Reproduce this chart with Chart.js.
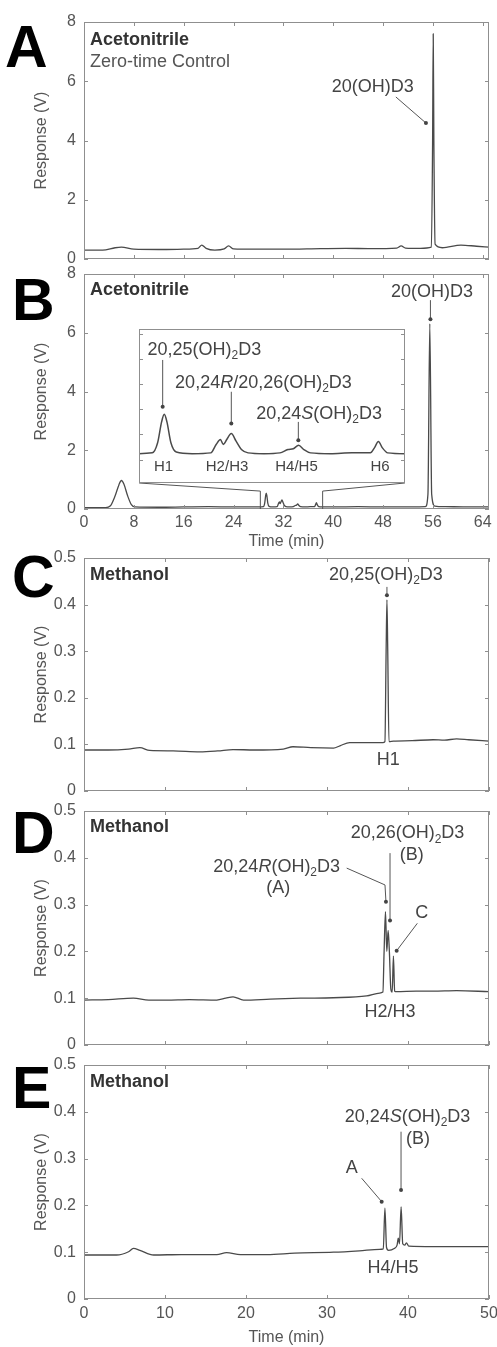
<!DOCTYPE html>
<html>
<head>
<meta charset="utf-8">
<title>HPLC chromatograms</title>
<script src="https://cdn.jsdelivr.net/npm/chart.js@4.4.1/dist/chart.umd.min.js"></script>
<style>
  html, body { margin: 0; padding: 0; background: #fff; }
  body { position: relative; width: 497px; height: 1347px; overflow: hidden; }
  canvas { position: absolute; left: 0; }
  #inset { z-index: 2; }
</style>
</head>
<body>
<canvas id="panelA" width="497" height="269" style="top:2px"></canvas>
<canvas id="panelB" width="497" height="301" style="top:254px"></canvas>
<canvas id="panelC" width="497" height="265" style="top:538px"></canvas>
<canvas id="panelD" width="497" height="266" style="top:791px"></canvas>
<canvas id="panelE" width="497" height="302" style="top:1045px"></canvas>
<canvas id="inset" width="10" height="10"></canvas>
<script>
// ---- data (time in min, response in V) ----
const timeA = [0, 3, 5, 6, 8, 12, 16, 18.3, 18.9, 19.6, 21, 22.5, 23.2, 24, 27, 32, 38, 42, 46, 50.2,
  50.9, 51.6, 54, 55.75, 55.95, 56.05, 56.15, 56.35, 57.5, 60.5, 63, 65];
const respA = [0.3, 0.3, 0.38, 0.4, 0.33, 0.32, 0.33, 0.36, 0.47, 0.36, 0.3, 0.34, 0.44, 0.34, 0.33, 0.33, 0.35, 0.36, 0.35, 0.37,
  0.44, 0.37, 0.36, 0.4, 4.0, 7.6, 4.0, 0.5, 0.38, 0.47, 0.43, 0.4];

const timeB = [0, 3.5, 4.2, 5.0, 5.6, 6.0, 6.4, 7.0, 7.6, 8.2, 12, 16, 20, 24, 28, 28.8, 29.0, 29.15, 29.25, 29.35,
  29.5, 29.7, 30.3, 31.0, 31.2, 31.36, 31.47, 31.6, 31.77, 31.95, 32.15, 32.4, 33.0, 33.6, 33.9, 34.1, 34.3, 34.5, 34.75, 35.5,
  36.3, 37.0, 37.15, 37.3, 37.45, 37.65, 38.3, 40, 44, 48, 52, 54.8, 55.2, 55.5, 55.8, 56.3, 58, 62, 65];
const respB = [0.05, 0.05, 0.1, 0.45, 0.82, 0.97, 0.85, 0.45, 0.15, 0.07, 0.06, 0.07, 0.08, 0.07, 0.07, 0.08, 0.2, 0.45, 0.54, 0.45,
  0.2, 0.09, 0.07, 0.08, 0.18, 0.24, 0.18, 0.24, 0.31, 0.22, 0.12, 0.08, 0.07, 0.08, 0.12, 0.13, 0.17, 0.12, 0.08, 0.07,
  0.08, 0.08, 0.14, 0.215, 0.14, 0.08, 0.07, 0.07, 0.08, 0.07, 0.07, 0.08, 0.5, 6.3, 0.5, 0.1, 0.08, 0.07, 0.07];

const timeC = [0, 3, 5.5, 6.9, 8.1, 11, 14.3, 16.5, 18.4, 21, 24.6, 25.8, 28, 30.8, 31.6, 32.8, 34.9, 36.9, 37.15, 37.3,
  37.4, 37.5, 37.65, 38.2, 40.5, 43.1, 44.5, 46, 47.5, 50];
const respC = [0.088, 0.088, 0.09, 0.093, 0.087, 0.086, 0.084, 0.086, 0.089, 0.088, 0.09, 0.095, 0.093, 0.092, 0.097, 0.104, 0.104, 0.104, 0.106, 0.3,
  0.41, 0.3, 0.106, 0.107, 0.108, 0.11, 0.109, 0.112, 0.11, 0.107];

const timeD = [0, 3, 6.1, 8, 10.2, 13, 16.4, 17.5, 18.4, 19.7, 23, 26.7, 30.8, 34.9, 36.5, 36.9, 37.05, 37.22, 37.38, 37.55,
  37.7, 37.88, 38.05, 38.2, 38.35, 38.6, 41, 43.1, 46, 50];
const respD = [0.096, 0.097, 0.1, 0.096, 0.096, 0.097, 0.096, 0.1, 0.103, 0.096, 0.098, 0.1, 0.101, 0.105, 0.111, 0.113, 0.2, 0.285, 0.2, 0.245,
  0.2, 0.12, 0.113, 0.19, 0.115, 0.114, 0.115, 0.115, 0.116, 0.114];

const timeE = [0, 4, 5.5, 6.1, 6.9, 8.6, 12, 16.4, 17.6, 19.3, 22.6, 26, 30.8, 34, 36.5, 36.95, 37.15, 37.35, 37.6, 38.3,
  38.65, 38.8, 38.95, 39.15, 39.35, 39.6, 39.8, 40.1, 43.1, 46, 50];
const respE = [0.094, 0.094, 0.101, 0.108, 0.104, 0.094, 0.095, 0.095, 0.099, 0.095, 0.095, 0.098, 0.1, 0.103, 0.106, 0.107, 0.194, 0.11, 0.104, 0.108,
  0.115, 0.13, 0.118, 0.197, 0.118, 0.115, 0.12, 0.113, 0.112, 0.112, 0.112];

// tick values
const xTicksAB = [0, 8, 16, 24, 32, 40, 48, 56, 64];
const yTicksAB = [0, 2, 4, 6, 8];
const xTicksCDE = [0, 10, 20, 30, 40, 50];
const yTicksCDE = [0, 0.1, 0.2, 0.3, 0.4, 0.5];
const yTicksInset = [0, 0.3, 0.6, 0.9, 1.2, 1.5];

const FONT = "'Liberation Sans', Arial, Helvetica, sans-serif";
Chart.defaults.font.family = FONT;
Chart.defaults.font.size = 16;
Chart.defaults.color = '#555';

// text with _2 subscripts and *R* italics
function drawRich(ctx, x, y, str, size, weight, align, color) {
  const segs = str.split(/(_\d|\*[^*]+\*)/).filter(s => s).map(p => {
    if (p[0] === '_') return { t: p.slice(1), f: weight + ' ' + Math.round(size * 0.65) + 'px ' + FONT, dy: size * 0.32 };
    if (p[0] === '*') return { t: p.slice(1, -1), f: 'italic ' + weight + ' ' + size + 'px ' + FONT, dy: 0 };
    return { t: p, f: weight + ' ' + size + 'px ' + FONT, dy: 0 };
  });
  let w = 0;
  segs.forEach(s => { ctx.font = s.f; s.w = ctx.measureText(s.t).width; w += s.w; });
  let cx = align === 'left' ? x : x - w / 2;
  ctx.fillStyle = color;
  ctx.textAlign = 'left';
  ctx.textBaseline = 'middle';
  segs.forEach(s => { ctx.font = s.f; ctx.fillText(s.t, cx, y + s.dy); cx += s.w; });
}

// box, inward ticks, annotations and panel letter
const framePlugin = {
  id: 'frame',
  beforeDraw(chart, args, o) {
    if (!o.white) return;
    const a = chart.chartArea;
    chart.ctx.save();
    chart.ctx.fillStyle = '#fff';
    chart.ctx.fillRect(a.left, a.top, a.width, a.height);
    chart.ctx.restore();
  },
  afterDatasetsDraw(chart, args, o) {
    const { ctx, chartArea: a, scales: { x, y } } = chart;
    const px = v => x.getPixelForValue(v);
    const py = v => y.getPixelForValue(v);
    ctx.save();
    ctx.strokeStyle = '#8f8f8f';
    ctx.lineWidth = 1;
    ctx.strokeRect(Math.round(a.left) + 0.5, Math.round(a.top) + 0.5, Math.round(a.width) - 1, Math.round(a.height) - 1);
    ctx.beginPath();
    (o.xTicks || []).forEach(v => {
      const p = Math.round(px(v)) + 0.5;
      ctx.moveTo(p, a.bottom); ctx.lineTo(p, a.bottom - 4);
      ctx.moveTo(p, a.top); ctx.lineTo(p, a.top + 4);
    });
    (o.yTicks || []).forEach(v => {
      const p = Math.round(py(v)) + 0.5;
      ctx.moveTo(a.left, p); ctx.lineTo(a.left + 4, p);
      ctx.moveTo(a.right, p); ctx.lineTo(a.right - 4, p);
    });
    ctx.stroke();

    ctx.strokeStyle = '#555';
    ctx.fillStyle = '#444';
    (o.arrows || []).forEach(ar => {
      ctx.beginPath();
      ar.pts.forEach(([vx, vy], i) => i ? ctx.lineTo(px(vx), py(vy)) : ctx.moveTo(px(vx), py(vy)));
      ctx.stroke();
      if (ar.dot !== false) {
        const [vx, vy] = ar.pts[ar.pts.length - 1];
        ctx.beginPath();
        ctx.arc(px(vx), py(vy), 2, 0, Math.PI * 2);
        ctx.fillStyle = '#444';
        ctx.fill();
      }
    });
    (o.labels || []).forEach(l => drawRich(ctx, px(l.x), py(l.y), l.t, l.size || 18,
      l.bold ? 'bold' : 'normal', l.align || 'center', l.color || '#444'));
    if (o.letter) {
      ctx.font = 'bold 59px ' + FONT;
      ctx.fillStyle = '#000';
      ctx.textAlign = 'left';
      ctx.textBaseline = 'alphabetic';
      ctx.fillText(o.letter.t, o.letter.x, o.letter.y);
    }
    ctx.restore();
  }
};

function makePanel(id, cfg) {
  return new Chart(document.getElementById(id), {
    type: 'line',
    data: {
      datasets: [{
        data: cfg.time.map((t, i) => ({ x: t, y: cfg.resp[i] })),
        borderColor: '#4a4a4a',
        borderWidth: 1.3,
        pointRadius: 0,
        cubicInterpolationMode: 'monotone',
        fill: false
      }]
    },
    options: {
      responsive: false,
      animation: false,
      events: [],
      layout: { padding: { top: 20, left: 0, right: 8, bottom: 0 } },
      plugins: { legend: { display: false }, tooltip: { enabled: false }, frame: cfg.frame },
      scales: {
        x: {
          type: 'linear', min: cfg.xMin, max: cfg.xMax,
          grid: { display: false, drawTicks: false },
          border: { display: false },
          ticks: { display: !!cfg.xTitle, padding: cfg.xPad || 3, maxRotation: 0, autoSkip: false },
          afterBuildTicks: s => { s.ticks = cfg.xTicks.map(v => ({ value: v })); },
          afterFit: s => { s.height = cfg.bottom; s.paddingLeft = 0; s.paddingRight = 0; },
          title: { display: !!cfg.xTitle, text: 'Time (min)', font: { size: 16 }, padding: { top: 0, bottom: cfg.titlePad || 0 } }
        },
        y: {
          type: 'linear', min: cfg.yMin, max: cfg.yMax,
          grid: { display: false, drawTicks: false },
          border: { display: false },
          ticks: { padding: 8 },
          afterBuildTicks: s => { s.ticks = cfg.yTicks.map(v => ({ value: v })); },
          afterFit: s => { s.width = 84; s.paddingTop = 0; s.paddingBottom = 0; },
          title: { display: true, text: 'Response (V)', font: { size: 16 }, padding: { top: 32, bottom: 0 } }
        }
      }
    },
    plugins: [framePlugin]
  });
}

// A
makePanel('panelA', {
  time: timeA, resp: respA, xMin: 0, xMax: 65, yMin: 0, yMax: 8,
  xTicks: xTicksAB, yTicks: yTicksAB, bottom: 12,
  frame: {
    xTicks: xTicksAB, yTicks: yTicksAB,
    letter: { t: 'A', x: 5, y: 65 },
    labels: [
      { x: 0.97, y: 7.39, t: 'Acetonitrile', bold: true, align: 'left', color: '#333' },
      { x: 0.97, y: 6.65, t: 'Zero-time Control', align: 'left', color: '#555' },
      { x: 46.35, y: 5.81, t: '20(OH)D3' }
    ],
    arrows: [{ pts: [[50.05, 5.47], [54.88, 4.59]] }]
  }
});

// B
const chartB = makePanel('panelB', {
  time: timeB, resp: respB, xMin: 0, xMax: 65, yMin: 0, yMax: 8,
  xTicks: xTicksAB, yTicks: yTicksAB, bottom: 46, xTitle: true, xPad: 4, titlePad: 4,
  frame: {
    xTicks: xTicksAB, yTicks: yTicksAB,
    letter: { t: 'B', x: 12, y: 66 },
    labels: [
      { x: 0.97, y: 7.46, t: 'Acetonitrile', bold: true, align: 'left', color: '#333' },
      { x: 55.84, y: 7.40, t: '20(OH)D3' }
    ],
    arrows: [
      { pts: [[55.6, 7.11], [55.6, 6.46]] },
      { pts: [[8.85, 0.885], [28.3, 0.61]], dot: false },
      { pts: [[51.5, 0.885], [38.3, 0.61]], dot: false },
      { pts: [[28.3, 0.61], [28.3, 0]], dot: false },
      { pts: [[38.3, 0.61], [38.3, 0]], dot: false }
    ]
  }
});

// inset of B, placed through chart B's own scales
const insetBox = { x0: 8.85, x1: 51.5, y0: 0.885, y1: 6.13 };
const insetCanvas = document.getElementById('inset');
const offB = chartB.canvas.offsetTop;
const iL = Math.round(chartB.scales.x.getPixelForValue(insetBox.x0));
const iR = Math.round(chartB.scales.x.getPixelForValue(insetBox.x1));
const iT = Math.round(chartB.scales.y.getPixelForValue(insetBox.y1));
const iB = Math.round(chartB.scales.y.getPixelForValue(insetBox.y0));
insetCanvas.width = iR - iL;
insetCanvas.height = iB - iT;
insetCanvas.style.left = iL + 'px';
insetCanvas.style.top = (offB + iT) + 'px';

new Chart(insetCanvas, {
  type: 'line',
  data: {
    datasets: [{
      data: timeB.map((t, i) => ({ x: t, y: respB[i] })),
      borderColor: '#4a4a4a', borderWidth: 1.5, pointRadius: 0,
      cubicInterpolationMode: 'monotone', fill: false
    }]
  },
  options: {
    responsive: false, animation: false, events: [],
    layout: { padding: 0 },
    plugins: {
      legend: { display: false }, tooltip: { enabled: false },
      frame: {
        white: true, yTicks: yTicksInset,
        labels: [
          { x: 30.76, y: 1.31, t: '20,25(OH)_2D3' },
          { x: 32.98, y: 0.91, t: '20,24*R*/20,26(OH)_2D3' },
          { x: 35.07, y: 0.54, t: '20,24*S*(OH)_2D3' },
          { x: 29.22, y: -0.087, t: 'H1', size: 15 },
          { x: 31.61, y: -0.087, t: 'H2/H3', size: 15 },
          { x: 34.22, y: -0.087, t: 'H4/H5', size: 15 },
          { x: 37.36, y: -0.087, t: 'H6', size: 15 }
        ],
        arrows: [
          { pts: [[29.19, 1.19], [29.19, 0.63]] },
          { pts: [[31.77, 0.81], [31.77, 0.43]] },
          { pts: [[34.29, 0.45], [34.29, 0.23]] }
        ]
      }
    },
    scales: {
      x: { type: 'linear', display: false, min: 28.3, max: 38.3 },
      y: { type: 'linear', display: false, min: -0.28, max: 1.56 }
    }
  },
  plugins: [framePlugin]
});

// C
makePanel('panelC', {
  time: timeC, resp: respC, xMin: 0, xMax: 50, yMin: 0, yMax: 0.5,
  xTicks: xTicksCDE, yTicks: yTicksCDE, bottom: 12,
  frame: {
    xTicks: xTicksCDE, yTicks: yTicksCDE,
    letter: { t: 'C', x: 12, y: 59 },
    labels: [
      { x: 0.74, y: 0.4635, t: 'Methanol', bold: true, align: 'left', color: '#333' },
      { x: 37.28, y: 0.4635, t: '20,25(OH)_2D3' },
      { x: 37.57, y: 0.0665, t: 'H1' }
    ],
    arrows: [{ pts: [[37.4, 0.438], [37.4, 0.42]] }]
  }
});

// D
makePanel('panelD', {
  time: timeD, resp: respD, xMin: 0, xMax: 50, yMin: 0, yMax: 0.5,
  xTicks: xTicksCDE, yTicks: yTicksCDE, bottom: 12,
  frame: {
    xTicks: xTicksCDE, yTicks: yTicksCDE,
    letter: { t: 'D', x: 12, y: 62 },
    labels: [
      { x: 0.74, y: 0.4665, t: 'Methanol', bold: true, align: 'left', color: '#333' },
      { x: 39.94, y: 0.452, t: '20,26(OH)_2D3' },
      { x: 40.46, y: 0.406, t: '(B)' },
      { x: 23.79, y: 0.381, t: '20,24*R*(OH)_2D3' },
      { x: 23.99, y: 0.335, t: '(A)' },
      { x: 41.69, y: 0.281, t: 'C' },
      { x: 37.78, y: 0.071, t: 'H2/H3' }
    ],
    arrows: [
      { pts: [[32.43, 0.378], [37.16, 0.342], [37.28, 0.306]] },
      { pts: [[37.78, 0.41], [37.78, 0.266]] },
      { pts: [[41.15, 0.26], [38.6, 0.2015]] }
    ]
  }
});

// E
makePanel('panelE', {
  time: timeE, resp: respE, xMin: 0, xMax: 50, yMin: 0, yMax: 0.5,
  xTicks: xTicksCDE, yTicks: yTicksCDE, bottom: 48, xTitle: true, xPad: 5, titlePad: 0,
  frame: {
    xTicks: xTicksCDE, yTicks: yTicksCDE,
    letter: { t: 'E', x: 12, y: 63 },
    labels: [
      { x: 0.74, y: 0.4643, t: 'Methanol', bold: true, align: 'left', color: '#333' },
      { x: 39.94, y: 0.3895, t: '20,24*S*(OH)_2D3' },
      { x: 41.23, y: 0.341, t: '(B)' },
      { x: 33.05, y: 0.279, t: 'A' },
      { x: 38.15, y: 0.066, t: 'H4/H5' }
    ],
    arrows: [
      { pts: [[34.28, 0.258], [36.75, 0.208]] },
      { pts: [[39.14, 0.3575], [39.14, 0.233]] }
    ]
  }
});
</script>
</body>
</html>
